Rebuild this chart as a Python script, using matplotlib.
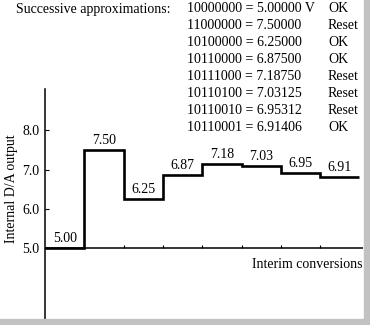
# Successive approximation A/D: internal D/A output per interim conversion

import matplotlib.pyplot as plt
import numpy as np

codes = ['10000000', '11000000', '10100000', '10110000',
         '10111000', '10110100', '10110010', '10110001']
voltages = [5.00000, 7.50000, 6.25000, 6.87500,
            7.18750, 7.03125, 6.95312, 6.91406]
# step heights as drawn in the figure (not exactly to scale)
drawn_levels = [5.00, 7.50, 6.25, 6.87, 7.14, 7.09, 6.92, 6.81]
step_labels = ['5.00', '7.50', '6.25', '6.87', '7.18', '7.03', '6.95', '6.91']
results = ['OK', 'Reset', 'OK', 'OK', 'Reset', 'Reset', 'Reset', 'OK']
yticks = [5.0, 6.0, 7.0, 8.0]

plt.rcParams['font.family'] = ['Liberation Serif', 'DejaVu Serif']
W, H = 370, 325
fig = plt.figure(figsize=(W / 100, H / 100), dpi=100)

def fx(px):
    return px / W

def fy(py):
    return 1 - py / H

# gray frame on right and bottom
fig.patches.append(plt.Rectangle((fx(364), 0), 1, 1, transform=fig.transFigure,
                                 color='#c2c2c2', zorder=0))
fig.patches.append(plt.Rectangle((0, 0), 1, fy(319), transform=fig.transFigure,
                                 color='#c2c2c2', zorder=0))

ax = fig.add_axes([fx(45), fy(319), fx(363) - fx(45), fy(89) - fy(319)])
ax.patch.set_alpha(0)
n = len(drawn_levels)
x = np.arange(n + 1)
ax.stairs(drawn_levels, x, baseline=None, color='black', lw=1.9)
ax.axhline(5.0, color='black', lw=1.1)
ax.vlines(x[2:-1], 5.0, 5.07, color='black', lw=0.8)
for i, (v, s) in enumerate(zip(drawn_levels, step_labels)):
    ax.text(i + 0.5, v + 0.07, s, ha='center', va='bottom', fontsize=10)

ax.set_xlim(0, 8.09)
ax.set_ylim(3.2, 9.05)
ax.set_yticks(yticks)
ax.set_yticklabels(['%.1f' % t for t in yticks], fontsize=10)
ax.set_xticks([])
for sp in ['top', 'right', 'bottom']:
    ax.spines[sp].set_visible(False)
ax.spines['left'].set_linewidth(1.1)
ax.tick_params(axis='y', direction='in', length=3, width=0.8, pad=4)

fig.text(fx(12), fy(189), 'Internal D/A output', rotation=90,
         ha='center', va='center', fontsize=10)
fig.text(fx(362), fy(264), 'Interim conversions', ha='right', va='center',
         fontsize=10)

fig.text(fx(16), fy(9), 'Successive approximations:', ha='left',
         va='center', fontsize=10)
for i, (c, v, r) in enumerate(zip(codes, voltages, results)):
    yy = fy(9 + i * 16.9)
    unit = ' V' if i == 0 else ''
    fig.text(fx(187), yy, '%s = %.5f%s' % (c, v, unit), ha='left',
             va='center', fontsize=10)
    fig.text(fx(328), yy, r, ha='left', va='center', fontsize=10)

fig.savefig('out.png', dpi=100)
